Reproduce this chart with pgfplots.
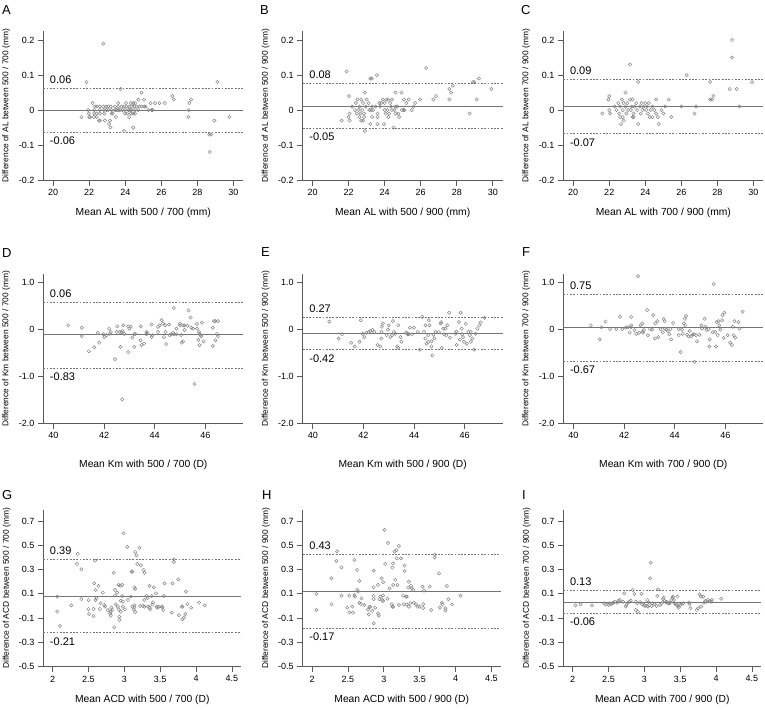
\documentclass[border=0pt]{standalone}
\usepackage{fontspec}
\setmainfont{Liberation Sans}
\usepackage{pgfplots}
\pgfplotsset{compat=1.18}
\definecolor{axgray}{HTML}{5A5A5A}
\definecolor{mkgray}{HTML}{858585}
\definecolor{lngray}{HTML}{757575}
\tikzset{lim/.style={font=\fontsize{11}{12}\selectfont, inner sep=0pt, xshift=6.5pt}}
\pgfplotsset{
  ba/.style={
    scale only axis, width=200pt, height=149pt,
    axis x line*=bottom, axis y line*=left,
    axis line style={draw=axgray, line width=0.75pt},
    every tick/.style={draw=axgray, line width=0.75pt},
    tick align=outside, major tick length=5.5pt,
    tick label style={font=\fontsize{9}{10}\selectfont},
    /pgf/number format/assume math mode=true,
    xlabel style={font=\fontsize{10.3}{12}\selectfont, at={(axis description cs:0.5,-0.22)}, anchor=center},
    ylabel style={font=\fontsize{8.4}{9}\selectfont, at={(axis description cs:-0.185,0.5)}, anchor=center},
    clip=false, anchor=south west,
  },
  rowone/.style={ba, xmin=19.45, xmax=30.55, ymin=-0.2, ymax=0.226,
    xtick={20,22,24,26,28,30}, xticklabels={20,22,24,26,28,30},
    ytick={-0.2,-0.1,0,0.1,0.2}, yticklabels={-0.2,-0.1,0,0.1,0.2}},
  rowtwo/.style={ba, xmin=39.6, xmax=47.5, ymin=-2.0, ymax=1.18,
    xtick={40,42,44,46}, xticklabels={40,42,44,46},
    ytick={-2,-1,0,1}, yticklabels={-2.0,-1.0,0,1.0},
    xlabel style={at={(axis description cs:0.5,-0.28)}}},
  rowthree/.style={ba, height=156.7pt, width=198pt, xmin=1.87, xmax=4.63, ymin=-0.5, ymax=0.79,
    xtick={2,2.5,3,3.5,4,4.5}, xticklabels={2,2.5,3,3.5,4,4.5},
    ytick={-0.5,-0.3,-0.1,0.1,0.3,0.5,0.7}, yticklabels={-0.5,-0.3,-0.1,0.1,0.3,0.5,0.7},
    xlabel style={at={(axis description cs:0.5,-0.21)}}},
  pts/.style={only marks, mark=o, mark size=1.65pt, mark options={draw=mkgray, line width=0.5pt}},
  meanl/.style={draw=lngray, line width=0.8pt, no marks},
  limitl/.style={draw=lngray, line width=0.8pt, dash pattern=on 1.8pt off 1.5pt, no marks},
}
\begin{document}
\begin{tikzpicture}
\useasboundingbox (0,0) rectangle (765pt,-709pt);
% ---------------- A ----------------
\begin{axis}[rowone, at={(43.3pt,-180pt)},
  xlabel={Mean AL with 500 / 700 (mm)}, ylabel={Difference of AL between 500 / 700 (mm)}]
\addplot[meanl] coordinates {(19.45,0.0) (30.55,0.0)};
\addplot[limitl] coordinates {(19.45,0.061) (30.55,0.061)};
\addplot[limitl] coordinates {(19.45,-0.063) (30.55,-0.063)};
\addplot[pts] coordinates {
(22.78,0.19)(21.85,0.08)(23.74,0.06)(29.11,0.08)(21.57,-0.02)(24.90,0.05)(25.04,0.03)(24.72,0.03)
(26.61,0.04)(26.70,0.03)(27.65,0.03)(27.56,0.02)(25.40,0.02)(25.65,0.02)(25.90,0.02)(26.20,0.02)
(27.50,-0.02)(27.52,0.00)(28.67,-0.07)(28.76,-0.07)(28.70,-0.12)(28.94,-0.03)(29.78,-0.02)
(23.17,-0.05)(23.94,-0.06)(24.44,-0.05)(22.54,-0.03)(22.59,-0.03)(22.87,-0.03)(23.10,-0.04)(23.15,-0.03)
(22.19,0.02)(23.61,0.02)(24.04,0.02)(24.31,0.02)(24.44,0.02)(24.54,0.02)
(22.31,0.01)(22.44,0.01)(22.59,0.01)(22.78,0.01)(22.93,0.01)(23.06,0.01)(23.20,0.01)(23.43,0.01)
(23.61,0.01)(23.80,0.01)(23.93,0.01)(24.07,0.01)(24.22,0.01)(24.35,0.01)(24.50,0.01)(24.63,0.01)
(24.78,0.01)(24.91,0.01)(25.06,0.01)(25.13,0.01)
(21.94,0)(22.28,0)(22.59,0)(22.81,0)(22.96,0)(23.06,0)(23.24,0)(23.43,0)(23.52,0)(23.61,0)(23.70,0)
(23.83,0)(23.98,0)(24.17,0)(24.26,0)(24.35,0)(24.54,0)(24.72,0)(25.28,0)(25.46,0)(25.52,0)
(21.98,-0.01)(22.28,-0.01)(22.41,-0.01)(22.59,-0.01)(22.83,-0.01)(23.24,-0.01)(23.30,-0.01)
(23.98,-0.01)(24.11,-0.01)(24.31,-0.01)(24.44,-0.01)(24.54,-0.01)
(22.00,-0.02)(22.04,-0.02)(22.26,-0.02)(22.41,-0.02)(23.48,-0.02)(24.22,-0.02)
};
\node[lim, anchor=south west] at (axis cs:19.45,0.061) [yshift=4.5pt] {0.06};
\node[lim, anchor=north west] at (axis cs:19.45,-0.063) [yshift=-4.5pt] {-0.06};
\end{axis}
% ---------------- B ----------------
\begin{axis}[rowone, at={(302.7pt,-180pt)},
  xlabel={Mean AL with 500 / 900 (mm)}, ylabel={Difference of AL between 500 / 900 (mm)}]
\addplot[meanl] coordinates {(19.45,0.011) (30.55,0.011)};
\addplot[limitl] coordinates {(19.45,0.076) (30.55,0.076)};
\addplot[limitl] coordinates {(19.45,-0.053) (30.55,-0.053)};
\addplot[pts] coordinates {
(21.89,0.11)(23.20,0.09)(23.29,0.09)(23.57,0.10)(26.30,0.12)(22.02,0.04)(22.90,0.05)(21.61,-0.03)
(22.90,-0.06)(24.49,-0.05)(23.60,-0.04)(23.21,-0.04)(23.96,-0.04)(24.61,0.05)(24.93,0.05)
(25.07,0.03)(25.33,0.03)(25.97,0.03)(26.70,0.03)(26.85,0.04)(27.59,0.06)(27.69,0.05)(27.78,0.07)
(27.59,0.03)(28.71,-0.01)(28.90,0.08)(28.97,0.08)(29.10,0.03)(29.23,0.09)(29.92,0.06)
(24.95,0)(25.10,0)(25.50,0)(25.69,0.02)
(22.5,0.03)(22.7,0.03)(23.0,0.03)(23.9,0.03)(24.1,0.03)(24.2,0.03)(24.4,0.03)
(22.4,0.02)(22.8,0.02)(23.1,0.02)(23.7,0.02)(23.8,0.02)(24.0,0.02)(24.3,0.02)(25.2,0.02)
(22.2,0.01)(22.6,0.01)(22.95,0.01)(23.3,0.01)(23.5,0.01)(23.75,0.01)(24.35,0.01)(24.6,0.01)(24.7,0.01)(25.6,0.01)
(22.35,0)(22.55,0)(22.75,0)(23.15,0)(23.25,0)(23.35,0)(24.0,0)(24.15,0)(24.4,0)(24.55,0)(25.05,0)
(22.05,-0.01)(22.45,-0.01)(22.65,-0.01)(22.85,-0.01)(23.6,-0.01)(24.05,-0.01)(24.25,-0.01)(24.6,-0.01)(24.75,-0.01)
(22.0,-0.02)(22.6,-0.02)(22.85,-0.02)(23.3,-0.02)(23.6,-0.02)(24.2,-0.02)(24.8,-0.02)
(22.05,-0.03)(22.7,-0.03)(22.8,-0.03)
};
\node[lim, anchor=south west] at (axis cs:19.45,0.076) [yshift=4.5pt] {0.08};
\node[lim, anchor=north west] at (axis cs:19.45,-0.053) [yshift=-4.5pt] {-0.05};
\end{axis}
% ---------------- C ----------------
\begin{axis}[rowone, at={(563.3pt,-180pt)},
  xlabel={Mean AL with 700 / 900 (mm)}, ylabel={Difference of AL between 700 / 900 (mm)}]
\addplot[meanl] coordinates {(19.45,0.011) (30.55,0.011)};
\addplot[limitl] coordinates {(19.45,0.089) (30.55,0.089)};
\addplot[limitl] coordinates {(19.45,-0.068) (30.55,-0.068)};
\addplot[pts] coordinates {
(23.16,0.13)(26.30,0.10)(23.60,0.08)(27.60,0.08)(28.82,0.20)(28.82,0.15)(28.69,0.06)(29.07,0.06)
(29.22,0.01)(29.92,0.08)(26.73,-0.01)(26.82,0.01)(27.60,0.03)(27.70,0.03)(27.78,0.04)(26.00,0.01)
(25.45,-0.02)(25.30,0.03)(22.65,-0.04)(23.60,-0.04)(24.75,-0.04)(22.90,0.05)(21.95,0.03)(22.0,0.04)(21.62,-0.01)
(22.7,0.03)(23.15,0.03)(23.3,0.03)(24.6,0.03)
(22.5,0.02)(22.8,0.02)(23.0,0.02)(23.5,0.02)(23.8,0.02)(24.0,0.02)(24.2,0.02)
(22.3,0.01)(22.6,0.01)(22.9,0.01)(23.25,0.01)(23.4,0.01)(23.7,0.01)(23.9,0.01)(24.1,0.01)(24.4,0.01)(25.1,0.01)
(22.0,0)(22.4,0)(22.75,0)(23.05,0)(23.2,0)(23.55,0)(23.85,0)(24.05,0)(24.3,0)(24.5,0)(24.9,0)
(22.05,-0.01)(22.55,-0.01)(22.95,-0.01)(23.35,-0.01)(23.75,-0.01)(24.15,-0.01)(24.6,-0.01)(25.0,-0.01)
(22.6,-0.02)(22.75,-0.02)(23.3,-0.02)(23.35,-0.02)(24.25,-0.02)(24.4,-0.02)(24.7,-0.02)
(22.8,-0.03)
};
\node[lim, anchor=south west] at (axis cs:19.45,0.089) [yshift=4.5pt] {0.09};
\node[lim, anchor=north west] at (axis cs:19.45,-0.068) [yshift=-4.5pt] {-0.07};
\end{axis}
% ---------------- D ----------------
\begin{axis}[rowtwo, at={(43.3pt,-423.3pt)},
  xlabel={Mean Km with 500 / 700 (D)}, ylabel={Difference of Km between 500 / 700 (mm)}]
\addplot[meanl] coordinates {(39.6,-0.107) (47.5,-0.107)};
\addplot[limitl] coordinates {(39.6,0.59) (47.5,0.59)};
\addplot[limitl] coordinates {(39.6,-0.83) (47.5,-0.83)};
\addplot[pts] coordinates {
(40.59,0.09)(41.12,0.04)(41.12,-0.14)(41.40,-0.46)(41.61,-0.38)(41.75,-0.07)(41.81,-0.28)(41.97,-0.10)
(42.01,-0.16)(42.10,-0.12)(42.20,0.02)(42.23,-0.09)(42.27,-0.05)(42.43,-0.63)(42.52,0.07)(42.65,-0.37)
(42.72,-1.49)(42.76,0.09)(42.62,-0.05)(42.69,-0.06)(42.73,-0.03)(42.95,-0.48)(42.95,0.07)(43.06,0.06)
(43.12,-0.17)(43.19,-0.10)(43.23,-0.09)(43.19,-0.37)(43.45,0.07)(43.44,-0.23)(43.48,-0.33)(43.58,-0.30)
(43.67,-0.10)(43.71,-0.07)(43.88,0.11)(43.91,-0.12)(43.88,-0.16)(44.13,-0.05)(44.20,0.09)(44.27,0.20)
(44.33,0.13)(44.37,-0.16)(44.42,0.09)(44.42,-0.05)(44.46,-0.31)(44.57,0.11)(44.59,-0.12)(44.66,-0.10)
(44.72,-0.07)(44.76,-0.10)(44.76,0.46)(44.86,0.02)(44.99,0.13)(45.00,0.09)(45.05,-0.12)(45.07,-0.28)
(45.12,-0.25)(45.12,0.09)(45.18,0.09)(45.34,0.41)(45.42,0.26)(45.45,0.04)(45.51,0.02)(45.58,-1.16)
(45.67,0.12)(45.67,0.02)(45.73,-0.22)(45.77,-0.33)(45.75,-0.05)(45.77,-0.09)(45.81,-0.12)(45.84,-0.14)
(45.87,0.15)(45.93,-0.25)(46.30,0.04)(46.30,-0.35)(46.34,0.18)(46.39,0.18)(46.50,0.18)(46.40,-0.23)
(46.46,-0.09)(46.50,-0.14)(42.50,-0.05)(42.80,-0.09)(43.00,0.02)(43.67,-0.05)(44.13,0.06)(44.86,-0.10)
(45.18,-0.01)(45.30,0.08)
};
\node[lim, anchor=south west] at (axis cs:39.6,0.59) [yshift=4.5pt] {0.06};
\node[lim, anchor=north west] at (axis cs:39.6,-0.83) [yshift=-4.5pt] {-0.83};
\end{axis}
% ---------------- E ----------------
\begin{axis}[rowtwo, at={(302.7pt,-423.3pt)},
  xlabel={Mean Km with 500 / 900 (D)}, ylabel={Difference of Km between 500 / 900 (mm)}]
\addplot[meanl] coordinates {(39.6,-0.08) (47.5,-0.08)};
\addplot[limitl] coordinates {(39.6,0.27) (47.5,0.27)};
\addplot[limitl] coordinates {(39.6,-0.43) (47.5,-0.43)};
\addplot[pts] coordinates {
(40.65,0.17)(41.02,-0.19)(41.16,-0.10)(41.51,-0.28)(41.65,-0.36)(41.85,-0.26)(41.90,0.20)(41.97,-0.09)
(42.03,-0.16)(42.11,-0.07)(42.21,-0.05)(42.27,-0.03)(42.36,-0.01)(42.43,-0.05)(42.56,-0.33)(42.67,-0.36)
(42.71,-0.19)(42.71,-0.05)(42.73,0.06)(42.77,0.13)(42.91,-0.12)(42.97,0.00)(43.00,0.09)(43.06,-0.16)
(43.13,-0.12)(43.17,0.18)(43.20,-0.05)(43.26,-0.09)(43.33,-0.36)(43.37,-0.39)(43.37,0.09)(43.46,-0.16)
(43.50,-0.26)(43.69,-0.06)(43.73,-0.09)(43.76,-0.09)(43.79,-0.10)(43.83,0.04)(43.92,-0.10)(43.99,0.04)
(44.15,-0.05)(44.23,-0.43)(44.32,0.27)(44.39,-0.05)(44.45,-0.19)(44.45,0.09)(44.49,-0.30)(44.56,-0.26)
(44.56,-0.12)(44.58,0.20)(44.61,0.09)(44.68,-0.36)(44.69,-0.25)(44.72,-0.55)(44.76,-0.11)(44.80,-0.19)
(44.85,-0.05)(44.98,-0.05)(45.05,0.13)(45.07,0.16)(45.09,-0.39)(45.15,0.02)(45.19,-0.10)(45.24,0.02)
(45.27,-0.12)(45.31,0.09)(45.38,0.36)(45.42,-0.17)(45.64,-0.09)(45.67,-0.04)(45.68,-0.33)(45.77,0.16)
(45.81,-0.21)(45.84,0.36)(45.88,0.02)(45.90,-0.10)(45.93,-0.16)(45.97,-0.26)(46.04,0.12)(46.08,-0.30)
(46.14,-0.05)(46.20,-0.12)(46.24,-0.05)(46.24,-0.26)(46.30,-0.19)(46.37,-0.43)(46.43,-0.09)(46.50,0.02)
(46.57,0.09)(46.63,0.15)(46.78,0.25)
};
\node[lim, anchor=south west] at (axis cs:39.6,0.27) [yshift=4.5pt] {0.27};
\node[lim, anchor=north west] at (axis cs:39.6,-0.43) [yshift=-4.5pt] {-0.42};
\end{axis}
% ---------------- F ----------------
\begin{axis}[rowtwo, at={(563.3pt,-423.3pt)},
  xlabel={Mean Km with 700 / 900 (D)}, ylabel={Difference of Km between 700 / 900 (mm)}]
\addplot[meanl] coordinates {(39.6,0.05) (47.5,0.05)};
\addplot[limitl] coordinates {(39.6,0.75) (47.5,0.75)};
\addplot[limitl] coordinates {(39.6,-0.67) (47.5,-0.67)};
\addplot[pts] coordinates {
(40.68,0.09)(41.04,-0.21)(41.10,0.05)(41.27,0.17)(41.44,0.01)(41.69,0.01)(41.84,0.27)(41.93,0.01)
(42.06,0.04)(42.15,0.05)(42.22,-0.06)(42.27,0.05)(42.28,0.27)(42.28,0.09)(42.41,-0.01)(42.48,-0.09)
(42.55,1.14)(42.59,-0.07)(42.65,0.09)(42.72,0.13)(42.72,-0.05)(42.76,-0.06)(42.78,-0.01)(42.91,0.42)
(42.94,-0.12)(43.02,0.01)(43.11,0.00)(43.15,0.31)(43.22,-0.19)(43.24,0.13)(43.31,0.18)(43.35,-0.16)
(43.44,0.01)(43.53,-0.06)(43.57,0.23)(43.60,0.18)(43.61,0.02)(43.67,0.00)(43.73,-0.03)(43.79,-0.10)
(43.83,0.01)(43.86,-0.21)(43.94,0.14)(44.16,0.01)(44.16,-0.12)(44.23,-0.48)(44.29,0.00)(44.32,-0.09)
(44.36,0.13)(44.40,0.23)(44.45,0.29)(44.42,0.09)(44.49,-0.11)(44.55,-0.14)(44.59,-0.03)(44.65,-0.14)
(44.71,-0.11)(44.76,-0.10)(44.78,-0.69)(44.84,-0.12)(44.88,-0.25)(44.97,-0.11)(45.05,0.09)(45.08,0.02)
(45.18,0.23)(45.21,0.06)(45.25,-0.01)(45.34,0.01)(45.37,-0.36)(45.38,-0.21)(45.50,-0.06)(45.54,0.97)
(45.60,-0.05)(45.63,-0.36)(45.66,0.16)(45.70,-0.12)(45.73,0.18)(45.76,0.09)(45.80,0.00)(45.87,0.20)
(45.89,0.31)(45.93,-0.18)(45.96,0.36)(46.09,-0.12)(46.19,-0.28)(46.26,-0.33)(46.30,0.06)(46.33,-0.12)
(46.36,0.18)(46.39,-0.17)(46.52,0.16)(46.56,0.02)(46.68,0.38)
};
\node[lim, anchor=south west] at (axis cs:39.6,0.75) [yshift=4.5pt] {0.75};
\node[lim, anchor=north west] at (axis cs:39.6,-0.67) [yshift=-4.5pt] {-0.67};
\end{axis}
% ---------------- G ----------------
\begin{axis}[rowthree, at={(43.3pt,-666.7pt)},
  xlabel={Mean ACD with 500 / 700 (D)}, ylabel={Difference of ACD between 500 / 700 (mm)}]
\addplot[meanl] coordinates {(1.87,0.082) (4.63,0.082)};
\addplot[limitl] coordinates {(1.87,0.384) (4.63,0.384)};
\addplot[limitl] coordinates {(1.87,-0.22) (4.63,-0.22)};
\addplot[pts] coordinates {
(2.065,0.077)(2.065,-0.047)(2.10,-0.165)(2.26,0.005)(2.35,0.428)(2.34,0.346)(2.40,0.302)(2.40,0.057)
(2.50,0.049)(2.50,-0.025)(2.51,-0.066)(2.57,-0.025)(2.57,-0.083)(2.58,0.186)(2.60,0.132)(2.60,0.049)
(2.61,0.063)(2.59,0.373)(2.64,0.165)(2.66,-0.025)(2.67,0.022)(2.70,0.110)(2.72,0.008)(2.73,-0.006)
(2.77,-0.033)(2.80,-0.061)(2.81,-0.080)(2.81,-0.047)(2.82,-0.014)(2.83,-0.033)(2.86,-0.176)(2.85,0.274)
(2.87,0.132)(2.87,0.085)(2.88,0.013)(2.90,0.110)(2.91,-0.006)(2.92,-0.028)(2.92,0.173)(2.94,0.167)
(2.93,-0.088)(2.93,-0.116)(2.95,0.044)(2.95,-0.047)(2.97,0.082)(2.97,0.173)(2.98,-0.006)(2.98,0.035)
(2.99,0.598)(3.01,-0.028)(3.04,0.486)(3.05,0.049)(3.09,0.077)(3.10,0.283)(3.11,0.283)(3.11,-0.006)
(3.13,-0.028)(3.14,0.005)(3.14,-0.011)(3.14,0.153)(3.15,0.445)(3.15,0.140)(3.17,0.417)(3.15,-0.050)
(3.18,0.346)(3.21,0.478)(3.22,0.000)(3.23,0.335)(3.26,0.000)(3.27,0.296)(3.28,0.272)(3.28,0.049)
(3.28,-0.006)(3.31,0.082)(3.32,0.066)(3.33,-0.006)(3.35,0.165)(3.35,-0.011)(3.36,-0.028)(3.38,0.082)
(3.39,0.011)(3.40,0.030)(3.41,0.153)(3.44,0.104)(3.45,-0.006)(3.46,-0.014)(3.48,-0.006)(3.52,-0.006)
(3.53,-0.006)(3.54,-0.033)(3.55,0.082)(3.56,0.186)(3.66,-0.055)(3.67,0.186)(3.69,0.362)(3.69,0.384)
(3.76,-0.077)(3.75,0.219)(3.80,-0.006)(3.81,-0.006)(3.81,-0.110)(3.83,-0.094)(3.85,-0.066)(3.86,0.118)
(3.88,0.016)(3.93,-0.014)(4.04,0.027)(4.12,0.005)
};
\node[lim, anchor=south west] at (axis cs:1.87,0.384) [yshift=4.5pt] {0.39};
\node[lim, anchor=north west] at (axis cs:1.87,-0.22) [yshift=-4.5pt] {-0.21};
\end{axis}
% ---------------- H ----------------
\begin{axis}[rowthree, at={(302.7pt,-666.7pt)},
  xlabel={Mean ACD with 500 / 900 (D)}, ylabel={Difference of ACD between 500 / 900 (mm)}]
\addplot[meanl] coordinates {(1.87,0.12) (4.63,0.12)};
\addplot[limitl] coordinates {(1.87,0.426) (4.63,0.426)};
\addplot[limitl] coordinates {(1.87,-0.184) (4.63,-0.184)};
\addplot[pts] coordinates {
(2.06,0.099)(2.06,-0.033)(2.27,0.228)(2.27,0.013)(2.35,0.450)(2.34,0.370)(2.41,0.318)(2.41,0.085)
(2.49,-0.014)(2.52,-0.052)(2.52,0.085)(2.56,-0.006)(2.57,-0.055)(2.59,0.379)(2.59,0.090)(2.60,0.077)
(2.63,0.296)(2.63,0.132)(2.64,0.118)(2.66,0.206)(2.66,0.027)(2.68,0.016)(2.69,0.063)(2.73,0.008)
(2.78,-0.028)(2.79,-0.069)(2.80,-0.008)(2.81,-0.006)(2.84,-0.041)(2.86,0.291)(2.86,0.082)(2.86,0.154)
(2.86,0.057)(2.86,-0.143)(2.88,-0.014)(2.92,0.173)(2.92,-0.061)(2.93,-0.080)(2.94,0.055)(2.95,0.077)
(2.97,0.228)(2.98,0.049)(2.99,0.085)(2.99,0.195)(2.99,0.041)(3.01,0.626)(3.02,0.346)(3.05,0.060)
(3.06,0.519)(3.08,0.145)(3.11,0.013)(3.12,-0.006)(3.13,-0.006)(3.12,0.316)(3.13,0.351)(3.13,0.173)
(3.15,0.447)(3.18,0.461)(3.16,0.214)(3.18,0.392)(3.19,0.173)(3.21,0.494)(3.21,0.008)(3.24,0.392)
(3.27,0.085)(3.28,0.013)(3.29,0.332)(3.29,0.288)(3.31,0.077)(3.32,0.077)(3.32,0.013)(3.34,0.151)
(3.35,0.200)(3.35,-0.006)(3.37,0.022)(3.38,0.165)(3.39,0.145)(3.41,0.132)(3.42,0.027)(3.45,0.013)
(3.47,-0.006)(3.50,-0.006)(3.54,0.159)(3.55,0.016)(3.55,-0.017)(3.56,0.126)(3.64,0.159)(3.66,-0.033)
(3.71,0.398)(3.71,0.423)(3.77,0.269)(3.78,-0.014)(3.81,0.027)(3.82,0.013)(3.86,-0.019)(3.86,-0.039)
(3.88,0.165)(3.90,0.055)(3.95,0.013)(4.07,0.085)
};
\node[lim, anchor=south west] at (axis cs:1.87,0.426) [yshift=4.5pt] {0.43};
\node[lim, anchor=north west] at (axis cs:1.87,-0.184) [yshift=-4.5pt] {-0.17};
\end{axis}
% ---------------- I ----------------
\begin{axis}[rowthree, at={(563.3pt,-666.7pt)},
  xlabel={Mean ACD with 700 / 900 (D)}, ylabel={Difference of ACD between 700 / 900 (mm)}]
\addplot[meanl] coordinates {(1.87,0.033) (4.63,0.033)};
\addplot[limitl] coordinates {(1.87,0.13) (4.63,0.13)};
\addplot[limitl] coordinates {(1.87,-0.06) (4.63,-0.06)};
\addplot[pts] coordinates {
(2.04,0.005)(2.11,0.013)(2.27,0.005)(2.44,0.022)(2.46,0.013)(2.50,0.008)(2.51,0.022)(2.53,0.013)
(2.55,0.022)(2.57,0.027)(2.59,0.035)(2.62,0.027)(2.64,0.044)(2.66,0.049)(2.70,0.035)(2.72,0.104)
(2.74,-0.006)(2.75,0.008)(2.77,0.027)(2.79,0.035)(2.81,0.044)(2.84,0.132)(2.86,0.099)(2.88,0.035)
(2.88,-0.033)(2.90,0.022)(2.91,-0.047)(2.94,0.033)(2.96,0.099)(2.97,0.013)(3.00,0.008)(3.01,0.000)
(3.04,0.049)(3.04,0.000)(3.05,-0.006)(3.07,0.027)(3.08,0.228)(3.09,0.357)(3.10,0.000)(3.11,0.022)
(3.14,0.013)(3.17,0.000)(3.18,0.082)(3.19,0.137)(3.22,0.008)(3.24,0.022)(3.26,0.057)(3.27,0.068)
(3.28,0.041)(3.30,0.030)(3.31,0.035)(3.33,0.022)(3.35,0.022)(3.35,0.027)(3.38,0.049)(3.39,0.068)
(3.40,0.077)(3.41,0.049)(3.42,0.022)(3.44,0.016)(3.45,0.008)(3.46,0.077)(3.47,0.000)(3.48,-0.014)
(3.50,0.008)(3.52,0.016)(3.54,0.022)(3.62,0.027)(3.63,0.016)(3.64,-0.019)(3.73,-0.033)(3.75,-0.019)
(3.77,0.096)(3.79,0.077)(3.82,0.077)(3.79,-0.006)(3.83,0.027)(3.85,0.041)(3.86,0.035)(3.89,0.049)
(3.91,0.041)(3.93,0.035)(3.94,0.049)(4.07,0.060)
};
\node[lim, anchor=south west] at (axis cs:1.87,0.13) [yshift=4.5pt] {0.13};
\node[lim, anchor=north west] at (axis cs:1.87,-0.06) [yshift=-4.5pt] {-0.06};
\end{axis}
% panel letters
\node[anchor=west, inner sep=0pt, font=\fontsize{13}{13}\selectfont] at (2pt,-10pt) {A};
\node[anchor=west, inner sep=0pt, font=\fontsize{13}{13}\selectfont] at (260pt,-10pt) {B};
\node[anchor=west, inner sep=0pt, font=\fontsize{13}{13}\selectfont] at (521pt,-10pt) {C};
\node[anchor=west, inner sep=0pt, font=\fontsize{13}{13}\selectfont] at (2pt,-253pt) {D};
\node[anchor=west, inner sep=0pt, font=\fontsize{13}{13}\selectfont] at (261pt,-252pt) {E};
\node[anchor=west, inner sep=0pt, font=\fontsize{13}{13}\selectfont] at (522pt,-252pt) {F};
\node[anchor=west, inner sep=0pt, font=\fontsize{13}{13}\selectfont] at (2pt,-495pt) {G};
\node[anchor=west, inner sep=0pt, font=\fontsize{13}{13}\selectfont] at (262pt,-495pt) {H};
\node[anchor=west, inner sep=0pt, font=\fontsize{13}{13}\selectfont] at (522pt,-495pt) {I};
\end{tikzpicture}
\end{document}
